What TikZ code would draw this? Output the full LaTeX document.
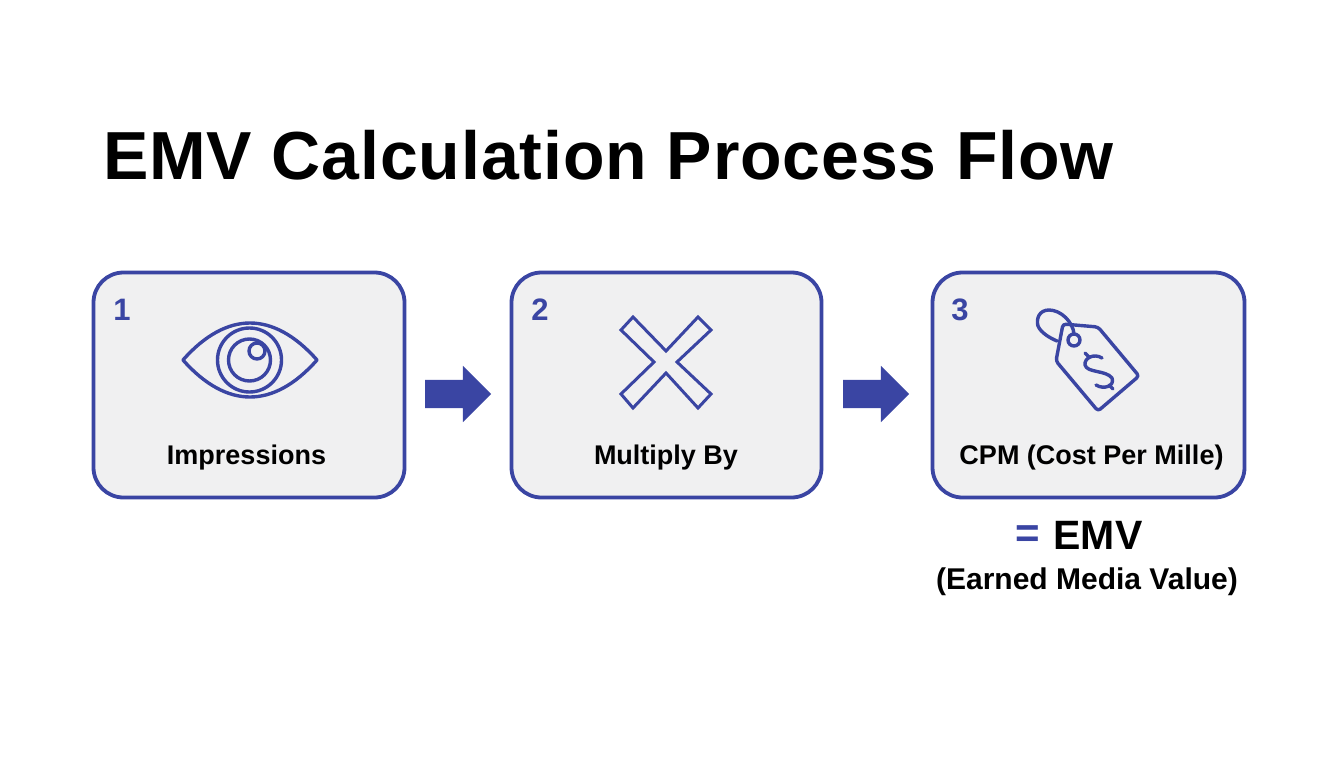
\documentclass[tikz,border=0pt]{standalone}
\usepackage{fontspec}
\setmainfont{Liberation Sans}
\usetikzlibrary{shapes.arrows}
\definecolor{brandblue}{HTML}{3A45A3}
\definecolor{cardfill}{HTML}{F0F0F1}
\tikzset{
  x=1pt,y=-1pt,
  card/.style={draw=brandblue,fill=cardfill,line width=3.8pt,rounded corners=30pt,minimum height=225pt,inner sep=0pt},
  numlabel/.style={text=brandblue,font=\fontsize{31}{31}\selectfont\bfseries,inner sep=0pt},
  cardlabel/.style={text=black,font=\fontsize{27}{27}\selectfont\bfseries,inner sep=0pt},
  icon/.style={draw=brandblue,line width=3.4pt,line join=round,line cap=round},
  flow/.style={shape=single arrow,fill=brandblue,minimum height=66pt,inner xsep=0pt,inner ysep=14pt,single arrow head extend=14pt,single arrow head indent=0pt},
}
\begin{document}
\begin{tikzpicture}
\useasboundingbox[fill=white] (0,0) rectangle (1344,768);
\node[inner sep=0pt,font=\fontsize{68}{68}\selectfont\bfseries\addfontfeature{LetterSpace=1.27}] (title) at (608.5,155.5) {EMV Calculation Process Flow};
\node[card,minimum width=311pt] (c1) at (249,385) {};
\node[card,minimum width=310pt] (c2) at (666.5,385) {};
\node[card,minimum width=312pt] (c3) at (1088.5,385) {};
\node[numlabel] (n1) at (122,310) {1};
\node[numlabel] (n2) at (540,310) {2};
\node[numlabel] (n3) at (960,310) {3};
\node[cardlabel] (t1) at (246.5,458) {Impressions};
\node[cardlabel] (t2) at (666,458) {Multiply By};
\node[cardlabel] (t3) at (1091.5,458) {CPM (Cost Per Mille)};
\node[flow] (a1) at (451,394) {};
\node[flow] (a2) at (869,394) {};
% eye
\draw[icon] (183,360) .. controls (205,335) and (228,323) .. (250,323) .. controls (272,323) and (295,335) .. (317,360) .. controls (295,385) and (272,397) .. (250,397) .. controls (228,397) and (205,385) .. (183,360) -- cycle;
\draw[icon] (249.5,360) circle (32);
\draw[icon] (249.5,360) circle (21);
\draw[icon,fill=cardfill] (257,351) circle (8);
% multiply
\draw[icon,line width=3pt,line cap=butt,line join=miter] (633,317) -- (621,330) -- (654,362) -- (621,394) -- (633,408) -- (666,373) -- (698,408) -- (711,394) -- (677,362) -- (711,330) -- (698,317) -- (666,351) -- cycle;
% tag
\draw[icon,rounded corners=3pt] (1063,324) -- (1098,327) -- (1139,376) -- (1098,411) -- (1056,361) -- cycle;
\draw[icon] (1074,340) circle (6);
\draw[icon] (1074,334) .. controls (1073,322) and (1061,310) .. (1049,310) .. controls (1039,310) and (1036,319) .. (1038,326) .. controls (1041,333) and (1050,338) .. (1057,341);
\draw[icon] (1102,358) .. controls (1094,353) and (1084,358) .. (1085,365) .. controls (1087,373) and (1106,370) .. (1112,378) .. controls (1115,386) and (1104,390) .. (1096,385);
\draw[icon] (1085,353) -- (1089,357);
\draw[icon] (1109,385) -- (1113,389);
% result
\node[inner sep=0pt,text=brandblue,font=\fontsize{42}{42}\selectfont\bfseries] (eq) at (1027.5,537) {=};
\node[inner sep=0pt,font=\fontsize{41}{41}\selectfont\bfseries] (emv) at (1098,535) {EMV};
\node[inner sep=0pt,font=\fontsize{30}{30}\selectfont\bfseries] (emvsub) at (1087,582) {(Earned Media Value)};
\end{tikzpicture}
\end{document}
